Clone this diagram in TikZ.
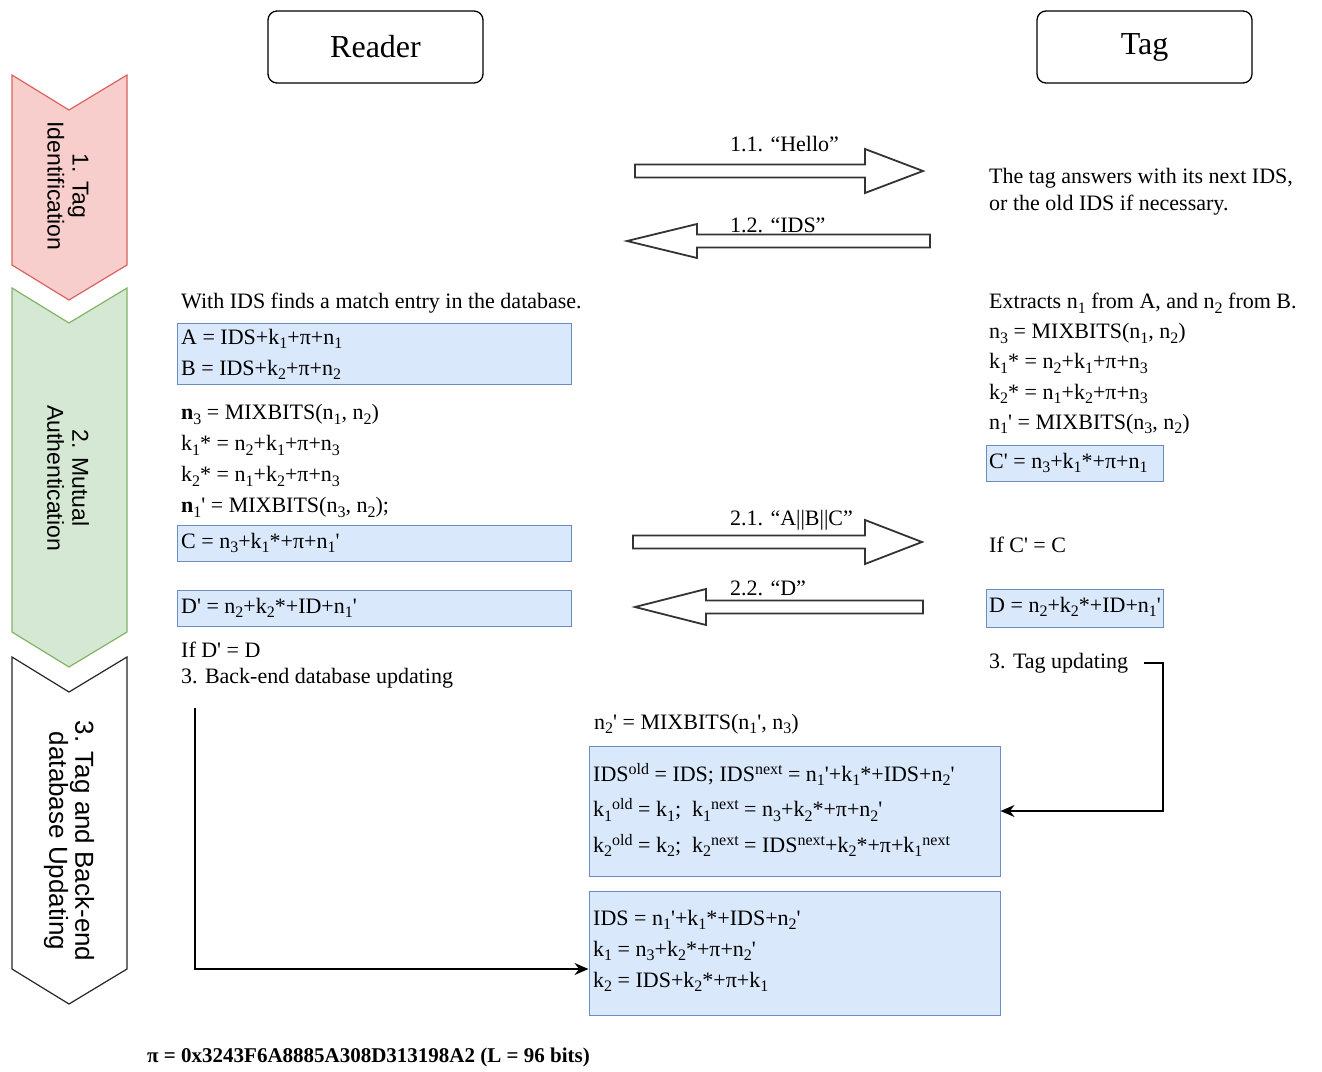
\documentclass[tikz,border=0pt]{standalone}
\usepackage{fontspec}
\setmainfont{Liberation Serif}[Ligatures=TeXOff]
\setsansfont{Liberation Sans}
\usetikzlibrary{arrows,arrows.meta,positioning,calc}

\definecolor{redfill}{HTML}{F8CECC}
\definecolor{redline}{HTML}{D9625F}
\definecolor{greenfill}{HTML}{D5E8D4}
\definecolor{greenline}{HTML}{82B366}
\definecolor{boxfill}{HTML}{DAE8FC}
\definecolor{boxline}{HTML}{6C8EBF}

\newcommand\nsub[1]{\raisebox{-4.5pt}{\fontsize{16}{16}\selectfont #1}}
\newcommand\nsup[1]{\raisebox{7pt}{\fontsize{16}{16}\selectfont #1}}

\begin{document}
\begin{tikzpicture}[x=1pt, y=-1pt,
      actor/.style={draw, rounded corners=9pt, line width=1.3pt, minimum width=215, minimum height=72, font=\fontsize{32}{38}\selectfont},
      phase/.style={rotate=-90, align=center, font=\sffamily\fontsize{23}{25}\selectfont},
      chevred/.style={draw=redline, fill=redfill, line width=1.2pt},
      chevgreen/.style={draw=greenline, fill=greenfill, line width=1.2pt},
      chevplain/.style={draw=black!85, fill=white, line width=1.2pt},
      bx/.style={draw=boxline, fill=boxfill, line width=1pt, inner sep=0pt},
      txt/.style={anchor=west, inner sep=0pt, align=left, font=\fontsize{22}{31}\selectfont},
      msg/.style={anchor=west, inner sep=0pt, font=\fontsize{22}{26}\selectfont},
      bigarr/.style={draw=black!80, fill=white, line width=1.8pt},
      arr/.style={->, line width=1.6pt, >={Stealth[length=14pt, width=12pt]}}
    ]
    \useasboundingbox (0,0) rectangle (1322,1071);

    % phases
    \foreach \ya/\yb/\st in {75/265/chevred, 288/632/chevgreen, 657/969/chevplain}
      \draw[\st] (12,\ya) -- (69,\ya+35) -- (127,\ya) -- (127,\yb) -- (69,\yb+35) -- (12,\yb) -- cycle;
    \node[phase] (ph1) at (68,186) {1. Tag\\Identification};
    \node[phase] (ph2) at (68,478) {2. Mutual\\Authentication};
    \node[phase, font=\sffamily\fontsize{26}{26}\selectfont] (ph3) at (69,841) {3. Tag and Back-end\\database Updating};

    \node[actor] (reader) at (375.5,47) {Reader};
    \node[actor] (tag) at (1144.5,47) {Tag};

    % messages
    \foreach \nm/\xa/\xb/\xc/\yc/\hw/\ly/\lab in {hello/635/865/923/171/22/144/{1.1. “Hello”}, ids/930/697/627/241/17/225/{1.2. “IDS”}, abc/633/865/922/542/22/520/{2.1. “A||B||C”}, dmsg/923/706/635/607/18/588/{2.2. “D”}} {
      \draw[bigarr] (\xa,\yc-6.5) -- (\xb,\yc-6.5) -- (\xb,\yc-\hw) -- (\xc,\yc) -- (\xb,\yc+\hw) -- (\xb,\yc+6.5) -- (\xa,\yc+6.5) -- cycle;
      \node[msg] (\nm) at (730,\ly) {\lab};
    }

    % reader side
    \node[txt] (match) at (181,303) {With IDS finds a match entry in the database.};
    \node[bx, minimum width=394, minimum height=61] (abbox) at (374,353.5) {};
    \node[txt] (ab) at (181,354.5) {A = IDS+k\nsub{1}+π+n\nsub{1}\\B = IDS+k\nsub{2}+π+n\nsub{2}};
    \node[txt] (rcalc) at (181,461) {\textbf{n}\nsub{3} = MIXBITS(n\nsub{1}, n\nsub{2})\\k\nsub{1}* = n\nsub{2}+k\nsub{1}+π+n\nsub{3}\\k\nsub{2}* = n\nsub{1}+k\nsub{2}+π+n\nsub{3}\\\textbf{n}\nsub{1}' = MIXBITS(n\nsub{3}, n\nsub{2});};
    \node[bx, minimum width=394, minimum height=36] (cbox) at (374,543) {};
    \node[txt] (c) at (181,543) {C = n\nsub{3}+k\nsub{1}*+π+n\nsub{1}'};
    \node[bx, minimum width=394, minimum height=36] (dpbox) at (374,608) {};
    \node[txt] (dp) at (181,608) {D' = n\nsub{2}+k\nsub{2}*+ID+n\nsub{1}'};
    \node[txt] (ifd) at (181,650) {If D' = D};
    \node[txt] (beupd) at (181,678) {3. Back-end database updating};

    % tag side
    \node[txt, font=\fontsize{22}{27}\selectfont] (answer) at (989,191.5) {The tag answers with its next IDS,\\or the old IDS if necessary.};
    \node[txt, font=\fontsize{22}{30.2}\selectfont] (tcalc) at (989,363.5) {Extracts n\nsub{1} from A, and n\nsub{2} from B.\\n\nsub{3} = MIXBITS(n\nsub{1}, n\nsub{2})\\k\nsub{1}* = n\nsub{2}+k\nsub{1}+π+n\nsub{3}\\k\nsub{2}* = n\nsub{1}+k\nsub{2}+π+n\nsub{3}\\n\nsub{1}' = MIXBITS(n\nsub{3}, n\nsub{2})};
    \node[bx, minimum width=177, minimum height=36] (cpbox) at (1074.5,463) {};
    \node[txt] (cp) at (989,463) {C' = n\nsub{3}+k\nsub{1}*+π+n\nsub{1}};
    \node[txt] (ifc) at (989,545) {If C' = C};
    \node[bx, minimum width=177, minimum height=38] (dbox) at (1074.5,608) {};
    \node[txt] (d) at (989,607) {D = n\nsub{2}+k\nsub{2}*+ID+n\nsub{1}'};
    \node[txt] (tagupd) at (989,663) {3. Tag updating};

    % updating
    \node[txt] (n2p) at (594,724) {n\nsub{2}' = MIXBITS(n\nsub{1}', n\nsub{3})};
    \node[bx, minimum width=411, minimum height=130] (upd1) at (794.5,811) {};
    \node[txt, font=\fontsize{22}{35.5}\selectfont] (upd1txt) at (593,810) {IDS\nsup{old} = IDS; IDS\nsup{next} = n\nsub{1}'+k\nsub{1}*+IDS+n\nsub{2}'\\k\nsub{1}\nsup{old} = k\nsub{1};~ k\nsub{1}\nsup{next} = n\nsub{3}+k\nsub{2}*+π+n\nsub{2}'\\k\nsub{2}\nsup{old} = k\nsub{2};~ k\nsub{2}\nsup{next} = IDS\nsup{next}+k\nsub{2}*+π+k\nsub{1}\nsup{next}};
    \node[bx, minimum width=411, minimum height=124] (upd2) at (794.5,953) {};
    \node[txt] (upd2txt) at (593,951) {IDS = n\nsub{1}'+k\nsub{1}*+IDS+n\nsub{2}'\\k\nsub{1} = n\nsub{3}+k\nsub{2}*+π+n\nsub{2}'\\k\nsub{2} = IDS+k\nsub{2}*+π+k\nsub{1}};

    \coordinate (tagturn) at (1163,740);
    \draw[arr] ([xshift=16pt]tagupd.east) -| (tagturn) |- (upd1.east);
    \coordinate (dbstart) at (195,708);
    \draw[arr] (dbstart) |- ([yshift=-16pt]upd2.west);

    \node[txt, font=\bfseries\fontsize{21}{26}\selectfont] (pidef) at (147,1057) {π = 0x3243F6A8885A308D313198A2 (L = 96 bits)};
  \end{tikzpicture}
\end{document}
